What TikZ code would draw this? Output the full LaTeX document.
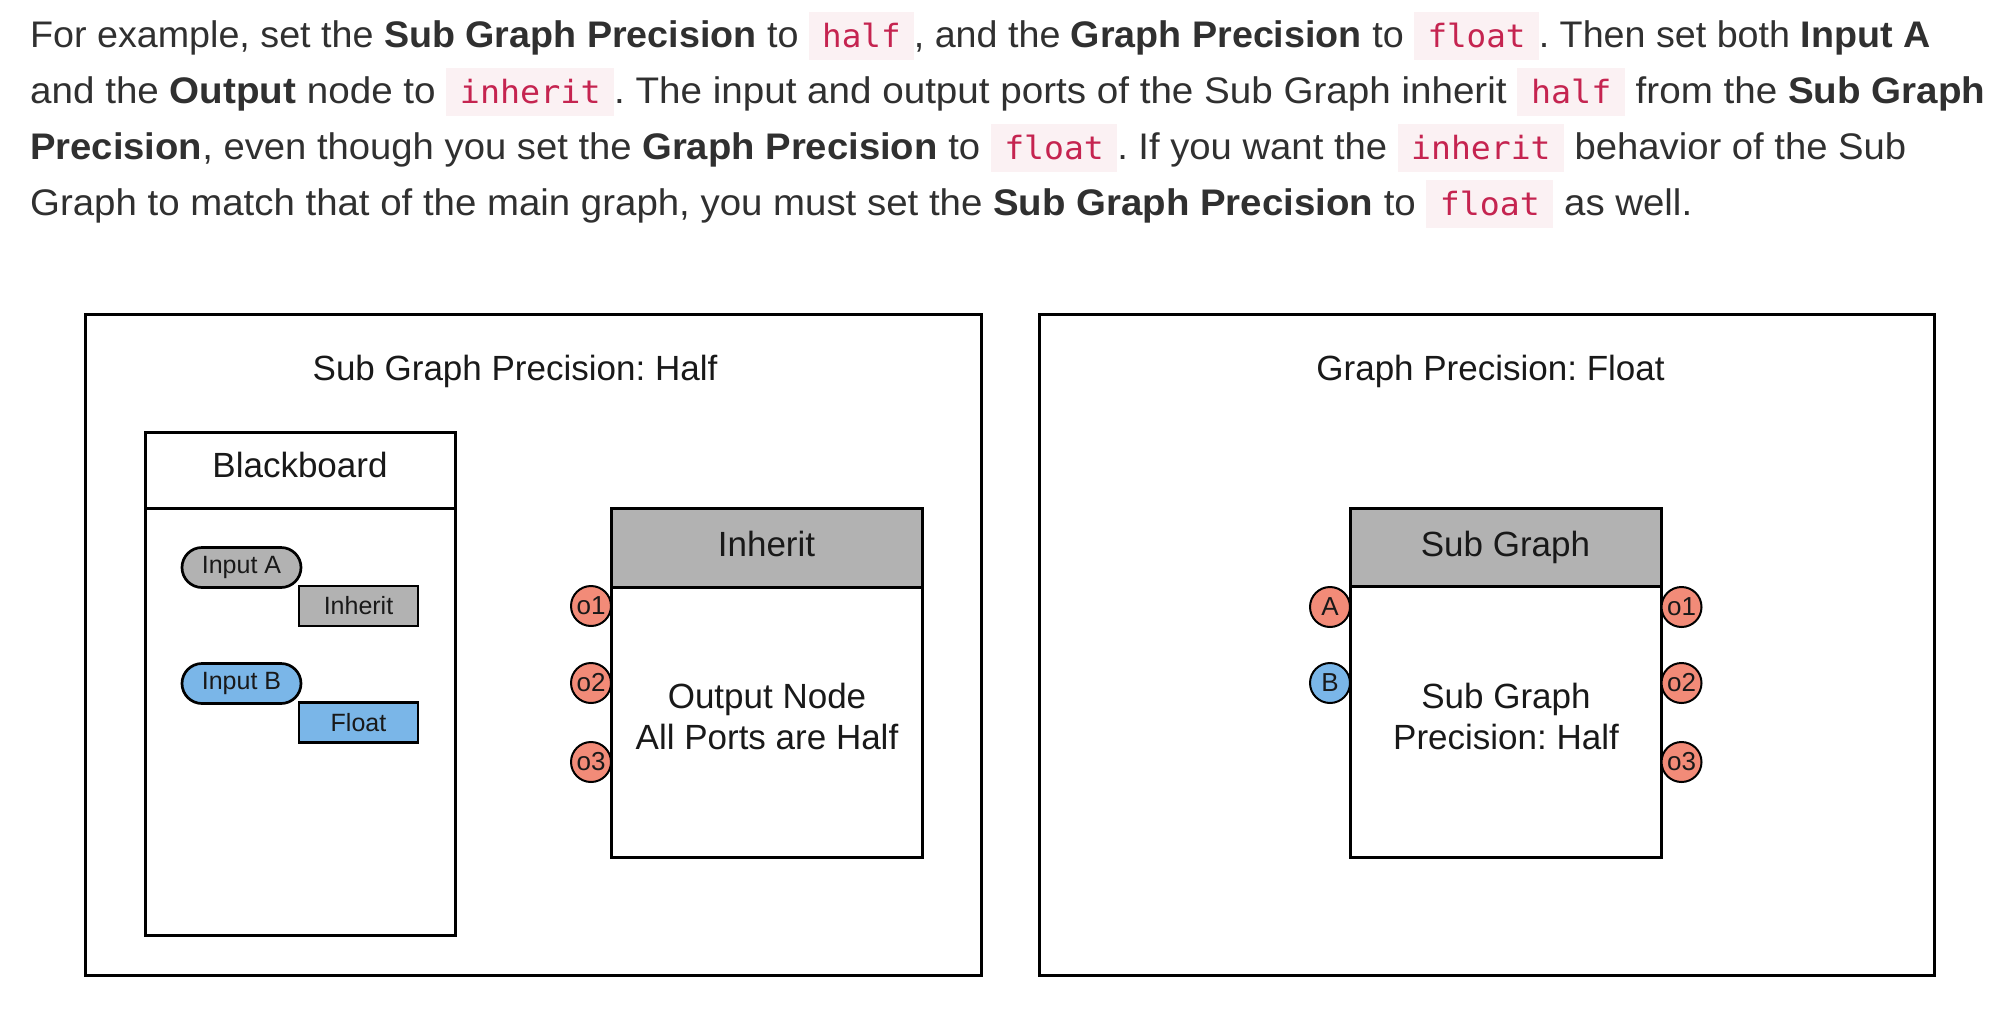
\documentclass[tikz,border=0pt]{standalone}
\usepackage{fontspec}
\setmainfont{Liberation Sans}
\newfontfamily\codefont{DejaVu Sans Mono}
\usepackage{graphicx}
\usetikzlibrary{shapes.misc}
\frenchspacing
\definecolor{txt}{HTML}{303030}
\definecolor{codebg}{HTML}{FBF1F3}
\definecolor{codefg}{HTML}{C52450}
\definecolor{salmon}{RGB}{242,139,120}
\definecolor{portblue}{RGB}{122,182,232}
\definecolor{hdrgray}{RGB}{178,178,178}
\newcommand\code[1]{{\setlength\fboxsep{0pt}\colorbox{codebg}{\hspace{13pt}\rule[-13pt]{0pt}{48pt}{\codefont\fontsize{32}{38}\selectfont\color{codefg}#1}\hspace{13pt}}}}
\tikzset{
  para/.style={anchor=base west, inner sep=0, text=txt, font=\fontsize{37}{56}\selectfont},
  frame/.style={draw, line width=3pt, inner sep=0},
  title/.style={inner sep=0, anchor=base, text=black!90, font=\fontsize{35}{41}\selectfont},
  lbl/.style={inner sep=0, text=black!90, font=\fontsize{35}{41}\selectfont, align=center},
  pill/.style={rounded rectangle, draw, line width=2.7pt, minimum width=119pt, minimum height=40pt, inner sep=0, text=black!90, font=\fontsize{25}{30}\selectfont},
  tag/.style={rectangle, draw, line width=2.7pt, minimum width=119pt, minimum height=40pt, inner sep=0, text=black!90, font=\fontsize{25}{30}\selectfont},
  port/.style={circle, draw, line width=2pt, minimum size=40pt, inner sep=0, fill=salmon, text=black!90, font=\fontsize{26}{30}\selectfont},
}
\begin{document}
\begin{tikzpicture}[x=1pt, y=-1pt]
\useasboundingbox (0,0) rectangle (2000,1017);
% paragraph
\node[para] (l1) at (30,47) {\resizebox{1900pt}{\height}{For example, set the \textbf{Sub Graph Precision} to \code{half}, and the \textbf{Graph Precision} to \code{float}. Then set both \textbf{Input A}}};
\node[para] (l2) at (30,103) {\resizebox{1955pt}{\height}{and the \textbf{Output} node to \code{inherit}. The input and output ports of the Sub Graph inherit \code{half} from the \textbf{Sub Graph}}};
\node[para] (l3) at (30,159) {\resizebox{1876pt}{\height}{\textbf{Precision}, even though you set the \textbf{Graph Precision} to \code{float}. If you want the \code{inherit} behavior of the Sub}};
\node[para] (l4) at (30,215) {\resizebox{1662pt}{\height}{Graph to match that of the main graph, you must set the \textbf{Sub Graph Precision} to \code{float} as well.}};

% outer frames
\node[frame, minimum width=895.5pt, minimum height=661pt] (left) at (533.25,644.5) {};
\node[frame, minimum width=894.5pt, minimum height=661pt] (right) at (1486.75,644.5) {};
\node[title] (ltitle) at (515,380) {Sub Graph Precision: Half};
\node[title] (rtitle) at (1490.5,380) {Graph Precision: Float};

% blackboard
\node[frame, minimum width=310pt, minimum height=503pt] (bb) at (300,683.5) {};
\node[frame, minimum width=310pt, minimum height=76pt] (bbh) at (300,470) {};
\node[title] (bbt) at (300,477) {Blackboard};
\node[pill, fill=hdrgray] (ina) at (241.5,567.5) {Input A};
\node[tag, fill=hdrgray] (inh) at (358.5,606) {Inherit};
\node[pill, fill=portblue] (inb) at (241.5,683.5) {Input B};
\node[tag, fill=portblue] (flt) at (358.5,722.5) {Float};

% output node
\node[frame, minimum width=311pt, minimum height=349pt] (out) at (766.5,682.5) {};
\node[frame, fill=hdrgray, minimum width=311pt, minimum height=79pt] (outh) at (766.5,547.5) {};
\node[title] (outht) at (766.5,556) {Inherit};
\node[lbl] (outb) at (767,716) {Output Node\\All Ports are Half};
\node[port] (oo1) at (591,606) {o1};
\node[port] (oo2) at (591,683) {o2};
\node[port] (oo3) at (591,762) {o3};

% sub graph node
\node[frame, minimum width=311pt, minimum height=349pt] (sg) at (1505.5,682.5) {};
\node[frame, fill=hdrgray, minimum width=311pt, minimum height=78pt] (sgh) at (1505.5,547) {};
\node[title] (sght) at (1505.5,556) {Sub Graph};
\node[lbl] (sgb) at (1506,716) {Sub Graph\\Precision: Half};
\node[port] (pa) at (1330,607) {A};
\node[port, fill=portblue] (pb) at (1330,683) {B};
\node[port] (so1) at (1681.5,607) {o1};
\node[port] (so2) at (1681.5,683) {o2};
\node[port] (so3) at (1681.5,762) {o3};
\end{tikzpicture}
\end{document}
